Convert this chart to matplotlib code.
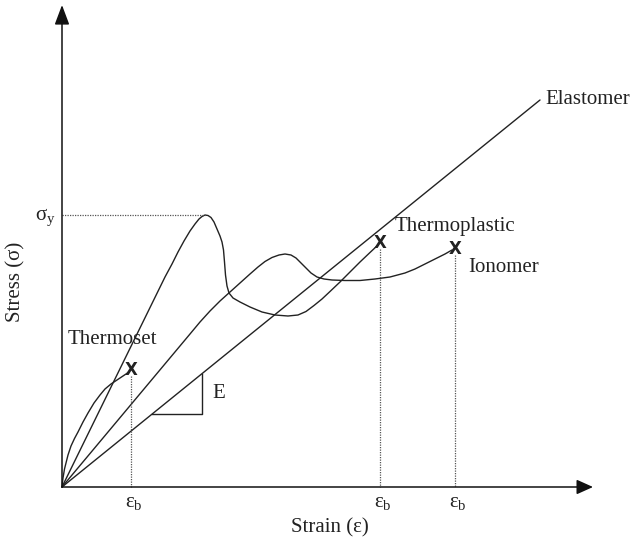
import matplotlib
matplotlib.use("Agg")
import matplotlib.pyplot as plt

# ---- data (strain, stress) in schematic units, origin at 0,0 ----
elastomer_strain = [0, 478]
elastomer_stress = [0, 387]

thermoplastic_strain = [0, 103, 110, 116, 122, 128, 133, 137, 140, 143, 146, 149, 152, 155,
                        158, 160, 161.5, 162.5, 163.5, 165, 167, 171, 178, 188, 200, 213,
                        226, 236, 244, 252, 260, 268, 278, 288, 298, 308, 316]
thermoplastic_stress = [0, 210, 223, 235, 246, 256, 263, 268, 270.5, 272, 271.5, 269.5, 265,
                        258, 251, 245, 237, 225, 212, 201, 194, 189, 185, 180, 175, 172,
                        171, 172, 175.5, 181.5, 188, 195.5, 205, 215, 225, 234.5, 242]

ionomer_strain = [0, 128, 138, 148, 158, 168, 178, 188, 196, 203, 210, 217, 223, 229, 234,
                  239, 244, 249, 255, 262, 270, 283, 298, 313, 328, 343, 353, 363, 373,
                  383, 390]
ionomer_stress = [0, 153, 165, 176, 186, 195, 204, 213, 220, 225.5, 229.5, 232, 233, 232,
                  229, 224, 219, 214, 210, 208, 207, 206.5, 206.5, 208, 210, 214, 218,
                  223, 228, 233, 237]

thermoset_strain = [0, 1, 2.5, 4.5, 6, 9, 12.5, 16, 21, 26, 32, 38, 43, 49, 55, 61, 67]
thermoset_stress = [0, 9, 18, 26, 32, 41, 48.5, 55, 65, 74, 84, 92, 98, 103, 107, 111, 115]

break_strain = [69, 318, 393]
break_stress = [117, 244, 238]
yield_stress = 272
yield_strain = 143

labels = {"Elastomer": (483, 387), "Thermoplastic": (333, 261),
          "Ionomer": (406, 220), "Thermoset": (6, 148)}

fig = plt.figure(figsize=(6.35, 5.45), dpi=100)
ax = fig.add_axes([0, 0, 1, 1])
ax.set_xlim(-62, 573)
ax.set_ylim(-58, 487)
ax.axis("off")

lc = "#222222"
lw = 1.0
serif = ["Liberation Serif", "DejaVu Serif"]

# axes with arrows
ax.annotate("", xy=(531, 0), xytext=(0, 0),
            arrowprops=dict(arrowstyle="-|>,head_length=1.0,head_width=0.45",
                            mutation_scale=10, color="#111111", lw=1.1,
                            shrinkA=0, shrinkB=0))
ax.annotate("", xy=(0, 482), xytext=(0, 0),
            arrowprops=dict(arrowstyle="-|>,head_length=1.2,head_width=0.45",
                            mutation_scale=10, color="#111111", lw=1.1,
                            shrinkA=0, shrinkB=0))

# curves
kw = dict(color=lc, lw=lw, solid_joinstyle="round", solid_capstyle="round")
ax.plot(elastomer_strain, elastomer_stress, **kw)
ax.plot(thermoplastic_strain, thermoplastic_stress, **kw)
ax.plot(ionomer_strain, ionomer_stress, **kw)
ax.plot(thermoset_strain, thermoset_stress, **kw)

# modulus triangle on elastomer line
slope = elastomer_stress[1] / elastomer_strain[1]
x0, x1 = 90, 140
ax.plot([x0, x1, x1], [slope * x0, slope * x0, slope * x1], color=lc, lw=lw)
ax.text(x1 + 10, (slope * x0 + slope * x1) / 2, "E", family=serif, fontsize=15,
        ha="left", va="center", color="#222222")

# yield dotted line
ax.plot([0, yield_strain], [yield_stress, yield_stress], color="#555555", lw=0.9,
        linestyle=(0, (1, 1)))
ax.text(-17, yield_stress - 2, r"$\mathregular{σ_y}$", family=serif, fontsize=15,
        ha="center", va="center", color="#222222")

# break markers and dotted drop lines
for s, t in zip(break_strain, break_stress):
    ax.plot([s, s], [t - 6, 0], color="#555555", lw=0.9, linestyle=(0, (1, 1)))
    ax.text(s, t, "X", fontsize=12, fontweight="bold", ha="center", va="center",
            family="DejaVu Sans", color="#222222")
    ax.text(s + 3, -15, r"$\mathregular{ε_b}$", family=serif, fontsize=15,
            ha="center", va="center", color="#222222")

# curve labels
for name, (x, y) in labels.items():
    ax.text(x, y, name, family=serif, fontsize=15, ha="left", va="center", color="#222222")

ax.text(268, -41, "Strain (ε)", family=serif, fontsize=15, ha="center", va="center",
        color="#222222")
ax.text(-46, 205, "Stress (σ)", family=serif, fontsize=15, ha="center", va="center",
        rotation=90, color="#222222")

fig.savefig("out.png", dpi=100)
